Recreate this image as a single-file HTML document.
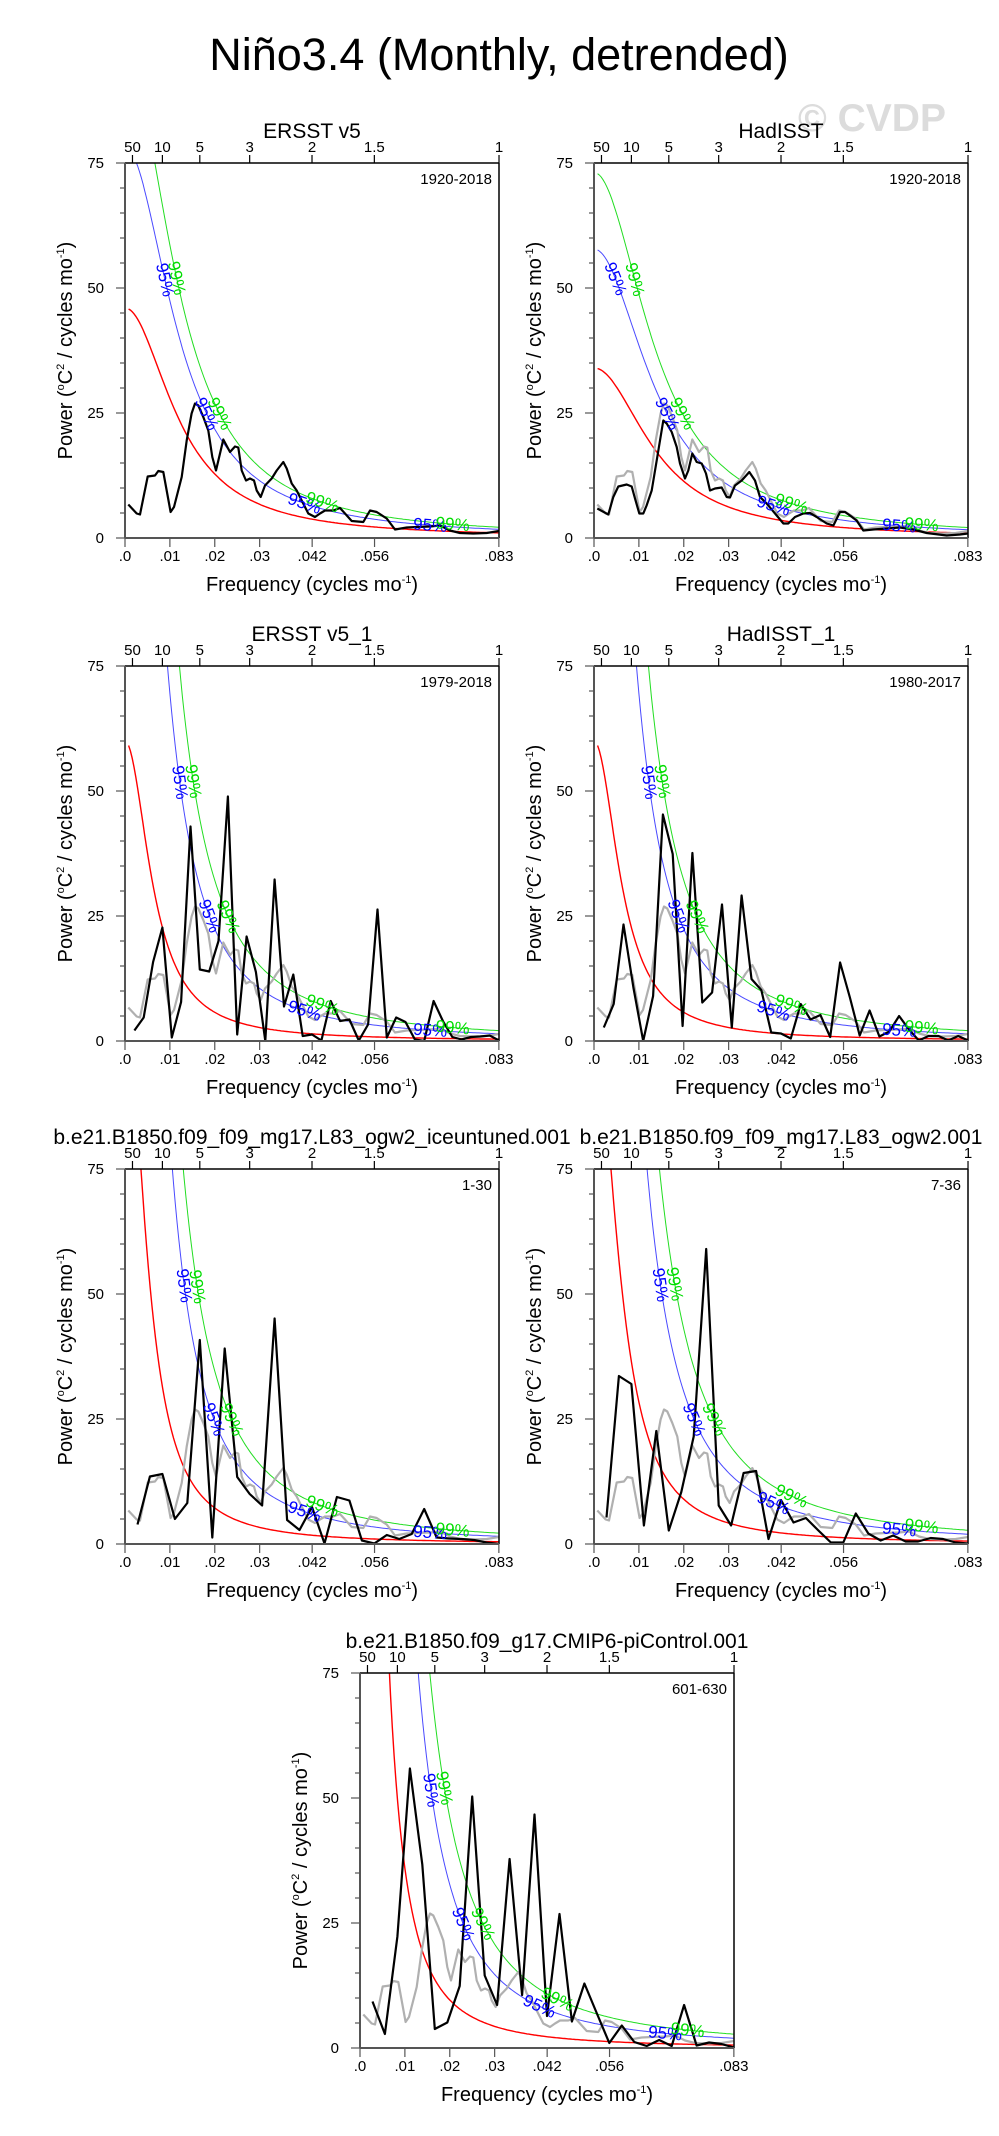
<!DOCTYPE html>
<html><head><meta charset="utf-8"><style>
html,body{margin:0;padding:0;background:#fff}
svg{display:block;font-family:"Liberation Sans",sans-serif}
</style></head><body>
<svg id="fig" width="999" height="2136" viewBox="0 0 999 2136" xmlns="http://www.w3.org/2000/svg">
<rect width="999" height="2136" fill="#fff"/>
<text x="499" y="70" font-size="45" text-anchor="middle">Niño3.4 (Monthly, detrended)</text>
<text x="872" y="131" font-size="39" font-weight="bold" fill="#dcdcdc" text-anchor="middle">© CVDP</text>
</svg>
<script>
// ---- data ----
const xTickValues = [0, 0.01, 0.02, 0.03, 0.0417, 0.0556, 0.0833];
const xTickLabels = [".0", ".01", ".02", ".03", ".042", ".056", ".083"];
const periodTickYears = [50, 10, 5, 3, 2, 1.5, 1];
const periodTickLabels = ["50", "10", "5", "3", "2", "1.5", "1"];
const yTickValues = [0, 25, 50, 75];

const freqErsst = [.00074,.0026,.00334,.00505,.00668,.00743,.00854,.01017,.01092,.01263,.01374,.01485,.0156,.01634,.01745,.01857,.01946,.02028,.02191,.0234,.02451,.02525,.026,.02696,.02785,.02874,.02934,.03023,.03119,.03268,.03379,.03528,.03602,.03714,.03825,.03936,.04085,.04233,.04345,.04456,.04642,.0479,.04902,.0505,.0531,.05459,.05607,.0583,.06016,.06276,.06499,.06796,.07019,.07241,.07464,.07761,.08058,.0834];
const powerErsst = [6.7,4.9,4.7,12.3,12.5,13.4,13.2,5.2,6.2,12.2,19.5,24.9,26.9,26.5,24.2,21.5,16.2,13.5,19.7,17.2,18.3,18.1,13.5,11.5,11.9,11.5,9.5,8.2,10.5,11.9,13.5,15.2,13.9,10.9,9.5,7.5,4.9,4.2,4.9,5.5,5.5,6.0,4.9,3.4,3.2,5.5,5.2,3.9,1.7,2.1,2.2,2.3,2.5,1.5,1.0,0.9,1.0,1.4];
const freqHad = [.00074,.00319,.00431,.00542,.00728,.00839,.00914,.0101,.01099,.01173,.01285,.01396,.01545,.01619,.01731,.01842,.01916,.02028,.02102,.02191,.02288,.02399,.02496,.02585,.02696,.02845,.02956,.0303,.03142,.0329,.03461,.03587,.03699,.03847,.0407,.04219,.0433,.04478,.04664,.04813,.04961,.05184,.05333,.05481,.05593,.05704,.05852,.06001,.06224,.06521,.06818,.07115,.07412,.07858,.08155,.08333];
const powerHad = [5.9,4.7,8.2,10.3,10.7,10.3,7.9,4.9,4.9,6.5,9.5,15.5,23.5,22.9,21.2,18.2,14.9,11.9,13.5,16.9,15.2,14.9,12.9,9.5,9.9,10.1,8.2,8.1,10.5,11.5,13.2,11.5,8.2,6.9,4.5,2.9,2.9,4.2,4.9,5.0,4.2,2.9,2.5,5.2,5.2,4.5,3.5,1.5,1.7,1.9,2.1,1.7,1.0,0.5,0.7,0.9];
// raw periodograms: value k at frequency k/nMonths
const powerErsst1 = [2.1,4.7,15.8,22.7,0.7,7.8,42.9,14.3,13.9,20,48.9,1.3,20.9,13.8,0,32.3,6.9,13.3,1.0,1.3,0.1,8.0,4.0,4.3,0.1,3.3,26.3,0.7,4.7,3.8,0.3,0,8.0,4.0,0.8,0.3,0.8,0.9,1.1,0.1];
const powerHad1 = [2.7,7.4,23.3,10.7,0,9.0,45.3,37.4,3.0,37.6,7.7,9.7,27.3,2.7,29.1,12.4,10.2,1.7,1.5,0.5,7.4,4.3,5.2,0.8,15.7,8.7,1.1,6.1,0.9,1.9,5.0,2.3,0.1,1.0,1.0,0.1,1.0,0.1];
const powerIce = [3.9,13.5,14.0,5.0,8.2,40.8,1.3,39.1,13.4,10.0,7.7,45.1,4.8,2.8,7.4,0.1,9.4,8.7,0.7,0.1,1.8,1.0,2.0,7.0,1.3,1.1,1.0,0.8,0.3,0];
const powerOgw2 = [5.3,33.6,32.0,3.7,22.6,2.7,10.4,21.5,59.0,7.7,3.7,14.2,14.6,1.0,8.8,4.3,5.2,2.7,0.3,0.3,6.1,2.1,0.7,1.7,0.5,0.5,1.2,1.0,0.3,0.1];
const powerPi = [9.3,2.8,22.3,55.9,36.7,3.8,5.1,12.4,50.3,14.5,8.6,37.8,10.6,46.7,6.4,26.8,5.3,12.9,6.9,1.0,4.5,1.2,0.4,1.6,0.4,8.6,0.5,1.1,0.8,0.1];

// red-noise (AR1) parameters per panel: power at f=0, lag-1 autocorrelation, 95% and 99% multipliers
const redNoiseS0 = [46, 34, 60, 60, 108, 103, 421];
const redNoiseR = [.925, .915, .96, .96, .967, .962, .981];
const sig95Factor = [1.7, 1.7, 3.9, 3.9, 3.4, 3.4, 3.4];
const sig99Factor = [2.1, 2.15, 5.6, 5.6, 4.8, 4.8, 4.8];

const panelTitles = ["ERSST v5","HadISST","ERSST v5_1","HadISST_1","b.e21.B1850.f09_f09_mg17.L83_ogw2_iceuntuned.001","b.e21.B1850.f09_f09_mg17.L83_ogw2.001","b.e21.B1850.f09_g17.CMIP6-piControl.001"];
const panelPeriods = ["1920-2018","1920-2018","1979-2018","1980-2017","1-30","7-36","601-630"];
const panelMonths = [0, 0, 480, 456, 360, 360, 360];
const panelPowers = [powerErsst, powerHad, powerErsst1, powerHad1, powerIce, powerOgw2, powerPi];

// ---- layout ----
const layout = [[125,163],[594,163],[125,666],[594,666],[125,1169],[594,1169],[360,1673]];
const PW = 374, PH = 375, FMAX = 0.08333, YMAX = 75;
const NS = "http://www.w3.org/2000/svg";
const svg = document.getElementById('fig');
function mk(tag, attrs, parent){ const e=document.createElementNS(NS,tag); for(const k in attrs) e.setAttribute(k,attrs[k]); (parent||svg).appendChild(e); return e; }
function ar1(i,f){ const r=redNoiseR[i], w=2*Math.PI*f; return redNoiseS0[i]*(1-r)*(1-r)/(1+r*r-2*r*Math.cos(w)); }

layout.forEach(function(pos, i){
  const x0=pos[0], y0=pos[1];
  const sx = f => x0 + f/FMAX*PW;
  const sy = v => y0 + PH - v/YMAX*PH;
  const g = mk('g',{});
  
  
  const cp = mk('clipPath',{id:'clip'+i}, g);
  mk('rect',{x:x0,y:y0,width:PW,height:PH},cp);
  const t = mk('text',{x:x0+PW/2,y:y0-25,'font-size':21,'text-anchor':'middle'},g);
  t.textContent = panelTitles[i];
  
  
  const pd = mk('text',{x:x0+PW-7,y:y0+21,'font-size':15,'text-anchor':'end'},g);
  pd.textContent = panelPeriods[i];
  
  

  // curves
  const cg = mk('g',{'clip-path':'url(#clip'+i+')'},g);
  const curves = [['red-noise-curve','#ff0000',1,1.4],['sig95-curve','#4a4aff',sig95Factor[i],1],['sig99-curve','#22dd22',sig99Factor[i],1]];
  curves.forEach(function(c){
    let d='';
    for(let f=0.0008; f<=FMAX+1e-6; f+=0.0004){ d += (d?'L':'M')+sx(f).toFixed(1)+','+sy(ar1(i,f)*c[2]).toFixed(1); }
    const p = mk('path',{d:d,fill:'none',stroke:c[1],'stroke-width':c[3]},cg);
    
    
  });
  // gray reference spectrum
  if(i>0){
    let d='';
    const n=Math.min(freqErsst.length,powerErsst.length);
    for(let k=0;k<n;k++) d+=(k?'L':'M')+sx(freqErsst[k]).toFixed(1)+','+sy(powerErsst[k]).toFixed(1);
    const p = mk('path',{d:d,fill:'none',stroke:'#b0b0b0','stroke-width':2.2,'stroke-linejoin':'round'},cg);
    
    
  }
  // main spectrum
  const pw = panelPowers[i];
  let fr;
  if(i===0) fr=freqErsst; else if(i===1) fr=freqHad; else fr=pw.map((v,k)=>(k+1)/panelMonths[i]);
  let d='';
  const n=Math.min(fr.length,pw.length);
  for(let k=0;k<n;k++) d+=(k?'L':'M')+sx(fr[k]).toFixed(1)+','+sy(pw[k]).toFixed(1);
  const sp = mk('path',{d:d,fill:'none',stroke:'#000','stroke-width':2.2,'stroke-linejoin':'round'},cg);
  
  

  // significance labels
  [['95%','#0000ff',sig95Factor[i],[0.040,0.068]],['99%','#00dd00',sig99Factor[i],[0.044,0.073]]].forEach(function(L){
    const fs=[];
    [52,25].forEach(function(target){
      let f=0.0008; while(f<FMAX && ar1(i,f)*L[2]>target) f+=0.0001;
      fs.push(f);
    });
    L[3].forEach(v=>fs.push(v));
    fs.forEach(function(f){
      const v=ar1(i,f)*L[2]; if(v>75) return;
      const dx=sx(f+0.0005)-sx(f-0.0005), dy=sy(ar1(i,f+0.0005)*L[2])-sy(ar1(i,f-0.0005)*L[2]);
      const ang=Math.atan2(dy,dx)*180/Math.PI;
      const tx=sx(f), ty=sy(v);
      const lt=mk('text',{x:tx,y:ty,'font-size':17,fill:L[1],'text-anchor':'middle','dominant-baseline':'central',transform:'rotate('+ang.toFixed(1)+' '+tx.toFixed(1)+' '+ty.toFixed(1)+')'},g);
      lt.textContent=L[0];
      
      
    });
  });

  // frame
  mk('line',{x1:x0,y1:y0,x2:x0+PW,y2:y0,stroke:'#000','stroke-width':1.5},g);
  mk('line',{x1:x0+PW,y1:y0,x2:x0+PW,y2:y0+PH,stroke:'#000','stroke-width':1.5},g);
  const la=mk('line',{x1:x0,y1:y0,x2:x0,y2:y0+PH,stroke:'#555','stroke-width':2},g);
  
  
  const ba=mk('line',{x1:x0,y1:y0+PH,x2:x0+PW,y2:y0+PH,stroke:'#555','stroke-width':2},g);
  
  
  // y ticks
  for(let v=0; v<=75; v+=5){
    const major = yTickValues.indexOf(v)>=0;
    mk('line',{x1:x0-(major?9:5),y1:sy(v),x2:x0,y2:sy(v),stroke:'#555','stroke-width':1.2},g);
    if(major){
      const yt=mk('text',{x:x0-21,y:sy(v)+5,'font-size':15,'text-anchor':'end'},g);
      yt.textContent=String(v);
      
      
    }
  }
  // x ticks
  xTickValues.forEach(function(f,k){
    mk('line',{x1:sx(f),y1:y0+PH,x2:sx(f),y2:y0+PH+9,stroke:'#555','stroke-width':1.2},g);
    const xt=mk('text',{x:sx(f),y:y0+PH+23,'font-size':15,'text-anchor':'middle'},g);
    xt.textContent=xTickLabels[k];
    
    
  });
  // period ticks on top
  periodTickYears.forEach(function(p,k){
    const f=1/(12*p);
    mk('line',{x1:sx(f),y1:y0,x2:sx(f),y2:y0-8,stroke:'#000','stroke-width':1.2},g);
    const pt=mk('text',{x:sx(f),y:y0-11,'font-size':15,'text-anchor':'middle'},g);
    pt.textContent=periodTickLabels[k];
    
    
  });
  // axis titles
  const xt=mk('text',{x:x0+PW/2,y:y0+PH+53,'font-size':20,'text-anchor':'middle'},g);
  xt.innerHTML='Frequency (cycles mo<tspan dy="-8" font-size="11">-1</tspan><tspan dy="8">)</tspan>';
  
  
  const cx=x0-53, cy=y0+PH/2;
  const yt=mk('text',{x:cx,y:cy,'font-size':20,'text-anchor':'middle',transform:'rotate(-90 '+cx+' '+cy+')'},g);
  yt.innerHTML='Power (<tspan dy="-8" font-size="11">o</tspan><tspan dy="8">C</tspan><tspan dy="-8" font-size="11">2</tspan><tspan dy="8"> / cycles mo</tspan><tspan dy="-8" font-size="11">-1</tspan><tspan dy="8">)</tspan>';
  
  
});
</script>
</body></html>
